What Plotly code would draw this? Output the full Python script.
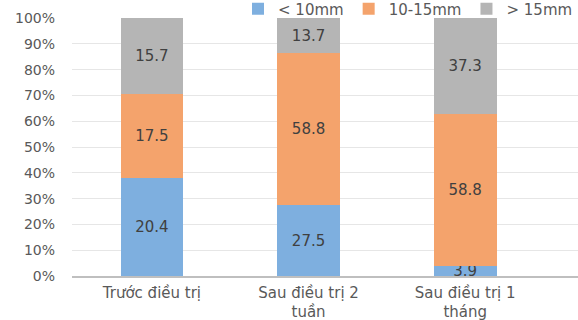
import plotly.graph_objects as go

categories = ["Trước điều trị", "Sau điều trị 2<br>tuần", "Sau điều trị 1<br>tháng"]
series_names = ["< 10mm", "10-15mm", "> 15mm"]
small = [20.4, 27.5, 3.9]
medium = [17.5, 58.8, 58.8]
large = [15.7, 13.7, 37.3]
colors = ["#7EAFDF", "#F4A36C", "#B5B5B5"]

fig = go.Figure()
for name, vals, col in zip(series_names, [small, medium, large], colors):
    fig.add_trace(go.Bar(
        x=categories, y=vals, name=name,
        marker=dict(color=col, line=dict(width=0)),
        text=[f"{v:.1f}" for v in vals],
        textposition="inside", insidetextanchor="middle",
        constraintext="none",
        textfont=dict(family="DejaVu Sans", size=15, color="#404040"),
        width=0.4,
    ))

fig.update_layout(
    barmode="stack", barnorm="percent",
    width=578, height=320,
    margin=dict(l=72, r=0, t=18, b=44, autoexpand=False),
    paper_bgcolor="white", plot_bgcolor="white",
    font=dict(family="DejaVu Sans", color="#595959"),
    legend=dict(orientation="h", x=1.0, xanchor="right", y=1.035, yanchor="middle",
                font=dict(size=15, color="#595959"), traceorder="normal",
                itemwidth=30, bgcolor="rgba(0,0,0,0)"),
    xaxis=dict(range=[-0.51, 2.72], showgrid=False, showline=True, linecolor="#BFBFBF",
               linewidth=1.5, tickfont=dict(size=15, color="#595959"), ticks="",
               ticklabelstandoff=2),
    yaxis=dict(range=[0, 100], dtick=10, ticksuffix="%", showgrid=True,
               gridcolor="#E6E6E6", zeroline=False, tickfont=dict(size=14, color="#595959"),
               ticks="", ticklabelstandoff=16),
)
fig.write_html("out.html")
